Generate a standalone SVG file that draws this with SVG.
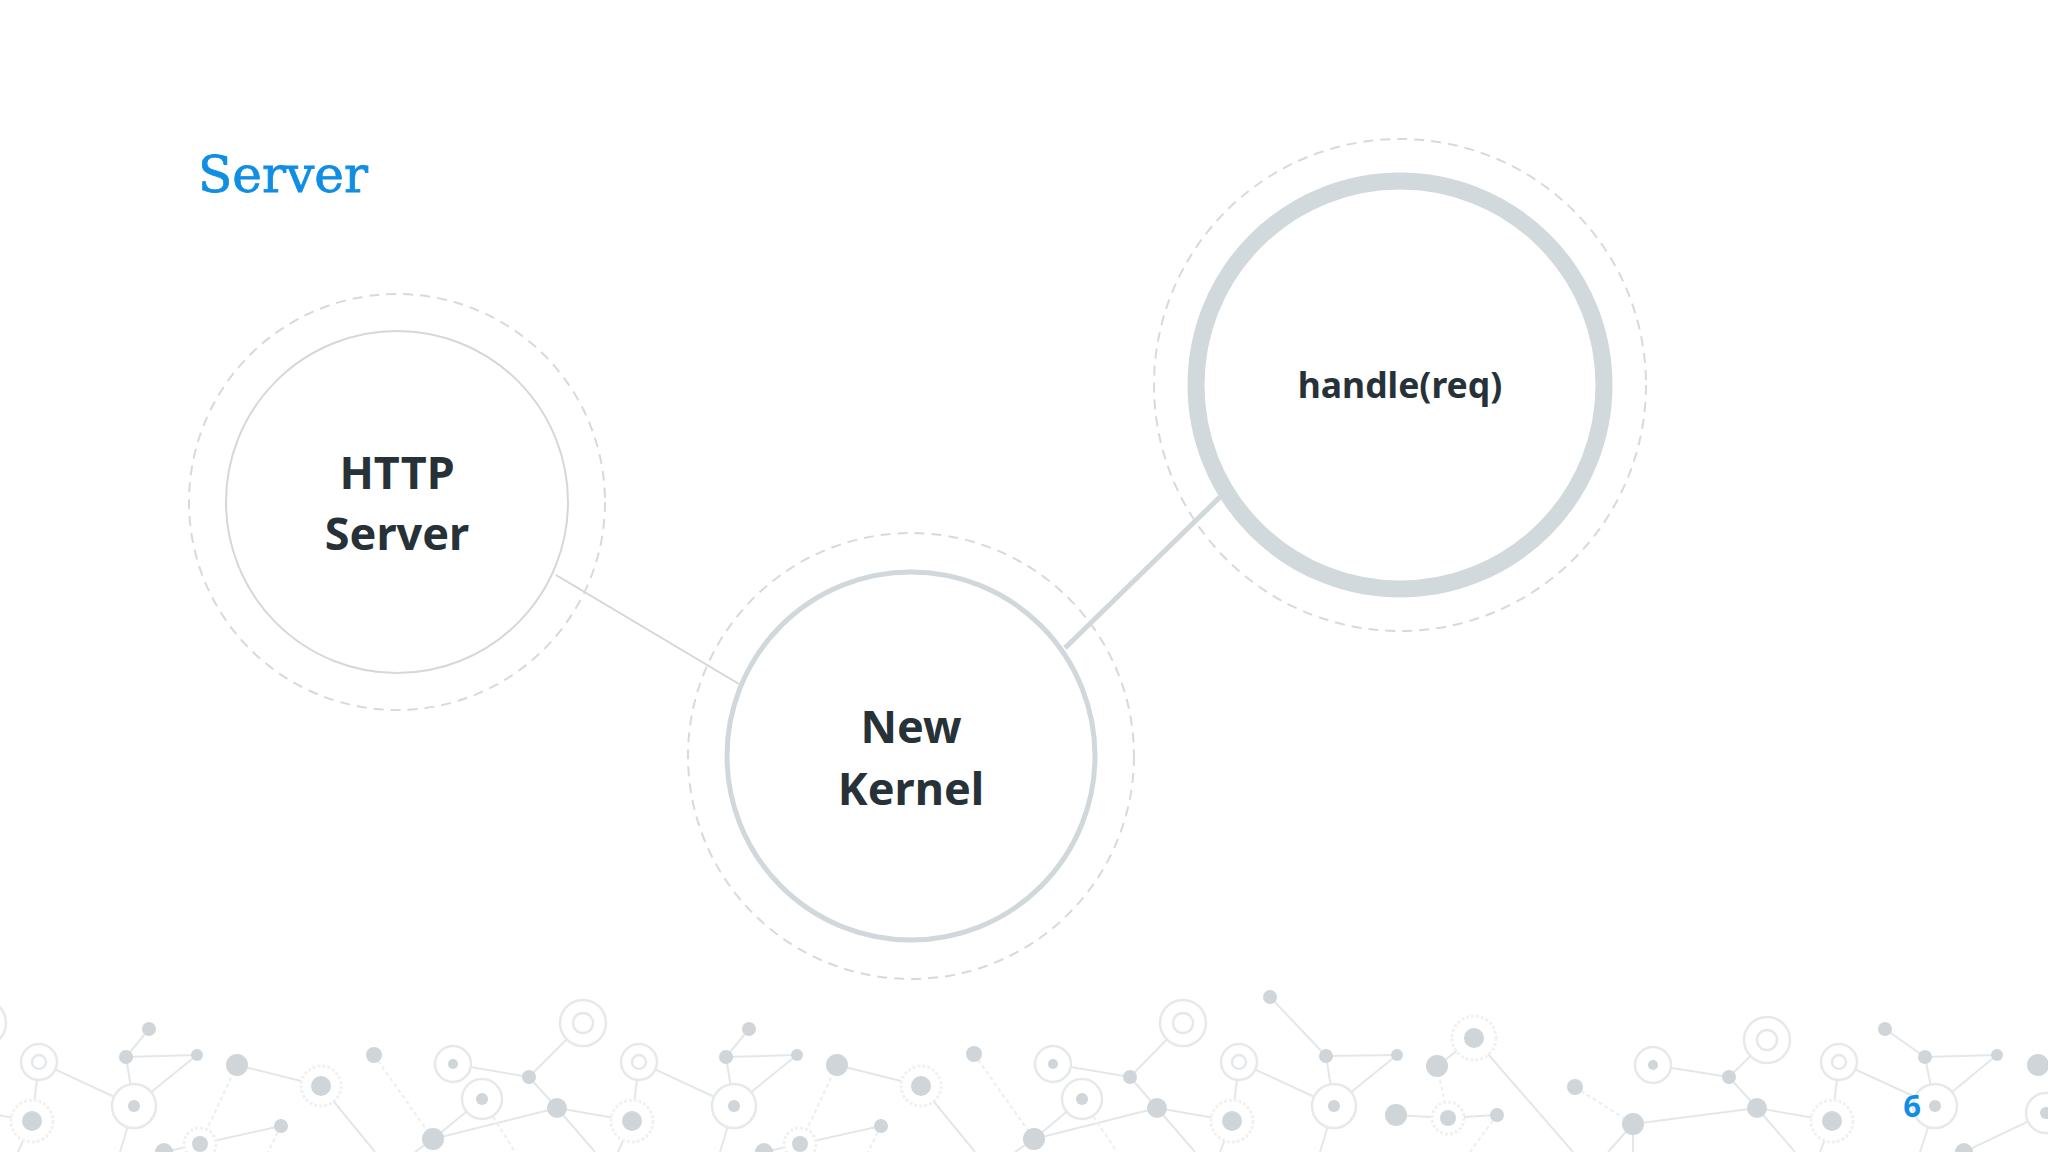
<svg xmlns="http://www.w3.org/2000/svg" width="2048" height="1152" viewBox="0 0 2048 1152">
<style>
.lbl{font-family:"Noto Sans","Open Sans","Liberation Sans",sans-serif;font-weight:700;fill:#263238;text-anchor:middle}
.dash{fill:none;stroke:#d9d9d9;stroke-width:2;stroke-dasharray:10 7}
.pl{stroke:#e4e7e9;stroke-width:2;fill:none}
.pf{stroke:#eceef0;stroke-width:2;fill:none;stroke-dasharray:4 3}
.pd{fill:#cfd5d8}
.pr{fill:#fff;stroke:#e6e9eb;stroke-width:2.5}
.ph{fill:#fff;stroke:#f0f1f2;stroke-width:3;stroke-dasharray:3 2}
</style>
<rect width="2048" height="1152" fill="#ffffff"/>
<text x="198" y="192" font-family="'DejaVu Serif','Liberation Serif',serif" font-size="50" fill="#0f8ee3" stroke="#0f8ee3" stroke-width="0.8" textLength="170" lengthAdjust="spacingAndGlyphs">Server</text>

<g id="pattern">
<g id="pattern-lines">
<!-- tile 0 -->
<line class="pl" x1="39" y1="1062" x2="134" y2="1106"/>
<line class="pl" x1="39" y1="1062" x2="32" y2="1121"/>
<line class="pl" x1="149" y1="1029" x2="126" y2="1057"/>
<line class="pl" x1="126" y1="1057" x2="197" y2="1055"/>
<line class="pl" x1="126" y1="1057" x2="134" y2="1106"/>
<line class="pl" x1="197" y1="1055" x2="134" y2="1106"/>
<line class="pl" x1="134" y1="1106" x2="120" y2="1152"/>
<line class="pl" x1="32" y1="1121" x2="18" y2="1152"/>
<line class="pl" x1="-43" y1="1108" x2="32" y2="1121"/>
<line class="pl" x1="237" y1="1065" x2="321" y2="1086"/>
<line class="pf" x1="237" y1="1065" x2="200" y2="1144"/>
<line class="pl" x1="200" y1="1144" x2="281" y2="1126"/>
<line class="pf" x1="281" y1="1126" x2="268" y2="1152"/>
<line class="pl" x1="200" y1="1144" x2="164" y2="1152"/>
<line class="pl" x1="321" y1="1086" x2="375" y2="1152"/>
<line class="pf" x1="374" y1="1055" x2="433" y2="1139"/>
<line class="pl" x1="433" y1="1139" x2="482" y2="1099"/>
<line class="pl" x1="433" y1="1139" x2="557" y2="1108"/>
<line class="pl" x1="433" y1="1139" x2="415" y2="1152"/>
<line class="pl" x1="453" y1="1064" x2="529" y2="1077"/>
<line class="pl" x1="529" y1="1077" x2="583" y2="1023"/>
<line class="pl" x1="529" y1="1077" x2="557" y2="1108"/>
<line class="pl" x1="557" y1="1108" x2="595" y2="1152"/>
<line class="pl" x1="557" y1="1108" x2="632" y2="1121"/>
<line class="pf" x1="482" y1="1099" x2="515" y2="1152"/>
<!-- tile 1 -->
<line class="pl" x1="639" y1="1062" x2="734" y2="1106"/>
<line class="pl" x1="639" y1="1062" x2="632" y2="1121"/>
<line class="pl" x1="749" y1="1029" x2="726" y2="1057"/>
<line class="pl" x1="726" y1="1057" x2="797" y2="1055"/>
<line class="pl" x1="726" y1="1057" x2="734" y2="1106"/>
<line class="pl" x1="797" y1="1055" x2="734" y2="1106"/>
<line class="pl" x1="734" y1="1106" x2="720" y2="1152"/>
<line class="pl" x1="632" y1="1121" x2="618" y2="1152"/>
<line class="pl" x1="837" y1="1065" x2="921" y2="1086"/>
<line class="pf" x1="837" y1="1065" x2="800" y2="1144"/>
<line class="pl" x1="800" y1="1144" x2="881" y2="1126"/>
<line class="pf" x1="881" y1="1126" x2="868" y2="1152"/>
<line class="pl" x1="800" y1="1144" x2="764" y2="1152"/>
<line class="pl" x1="921" y1="1086" x2="975" y2="1152"/>
<line class="pf" x1="974" y1="1054" x2="1034" y2="1139"/>
<line class="pl" x1="1034" y1="1139" x2="1082" y2="1099"/>
<line class="pl" x1="1034" y1="1139" x2="1157" y2="1108"/>
<line class="pl" x1="1034" y1="1139" x2="1015" y2="1152"/>
<line class="pl" x1="1053" y1="1064" x2="1130" y2="1077"/>
<line class="pl" x1="1130" y1="1077" x2="1183" y2="1023"/>
<line class="pl" x1="1130" y1="1077" x2="1157" y2="1108"/>
<line class="pl" x1="1157" y1="1108" x2="1195" y2="1152"/>
<line class="pl" x1="1157" y1="1108" x2="1232" y2="1121"/>
<line class="pf" x1="1082" y1="1099" x2="1117" y2="1152"/>
<!-- tile 2 -->
<line class="pl" x1="1239" y1="1062" x2="1334" y2="1106"/>
<line class="pl" x1="1239" y1="1062" x2="1232" y2="1121"/>
<line class="pl" x1="1270" y1="997" x2="1326" y2="1056"/>
<line class="pl" x1="1326" y1="1056" x2="1397" y2="1055"/>
<line class="pl" x1="1326" y1="1056" x2="1334" y2="1106"/>
<line class="pl" x1="1397" y1="1055" x2="1334" y2="1106"/>
<line class="pl" x1="1334" y1="1106" x2="1320" y2="1152"/>
<line class="pl" x1="1232" y1="1121" x2="1220" y2="1152"/>
<line class="pl" x1="1437" y1="1066" x2="1474" y2="1038"/>
<line class="pl" x1="1474" y1="1038" x2="1573" y2="1152"/>
<line class="pf" x1="1437" y1="1066" x2="1448" y2="1118"/>
<line class="pl" x1="1396" y1="1115" x2="1448" y2="1118"/>
<line class="pl" x1="1448" y1="1118" x2="1497" y2="1115"/>
<line class="pf" x1="1497" y1="1115" x2="1470" y2="1152"/>
<line class="pf" x1="1575" y1="1087" x2="1633" y2="1124"/>
<line class="pl" x1="1633" y1="1124" x2="1757" y2="1108"/>
<line class="pl" x1="1633" y1="1124" x2="1633" y2="1152"/>
<line class="pl" x1="1633" y1="1124" x2="1608" y2="1152"/>
<line class="pl" x1="1653" y1="1065" x2="1729" y2="1077"/>
<line class="pl" x1="1729" y1="1077" x2="1767" y2="1040"/>
<line class="pl" x1="1729" y1="1077" x2="1757" y2="1108"/>
<line class="pl" x1="1757" y1="1108" x2="1832" y2="1121"/>
<line class="pl" x1="1757" y1="1108" x2="1795" y2="1152"/>
<!-- tile 3 -->
<line class="pl" x1="1839" y1="1062" x2="1832" y2="1121"/>
<line class="pl" x1="1839" y1="1062" x2="1935" y2="1106"/>
<line class="pl" x1="1885" y1="1029" x2="1925" y2="1057"/>
<line class="pl" x1="1925" y1="1057" x2="1997" y2="1055"/>
<line class="pl" x1="1925" y1="1057" x2="1935" y2="1106"/>
<line class="pl" x1="1997" y1="1055" x2="1935" y2="1106"/>
<line class="pl" x1="1935" y1="1106" x2="1920" y2="1152"/>
<line class="pl" x1="1832" y1="1121" x2="1820" y2="1152"/>
<line class="pl" x1="2046" y1="1113" x2="1964" y2="1152"/>
</g>
<g id="pattern-nodes">
<circle class="pr" cx="-17" cy="1023" r="23"/><circle class="pr" cx="-17" cy="1023" r="10"/>
<circle class="pr" cx="583" cy="1023" r="23"/><circle class="pr" cx="583" cy="1023" r="10"/>
<circle class="pr" cx="1183" cy="1023" r="23"/><circle class="pr" cx="1183" cy="1023" r="10"/>
<circle class="pr" cx="1767" cy="1040" r="23"/><circle class="pr" cx="1767" cy="1040" r="10"/>
<circle class="pr" cx="39" cy="1062" r="18"/><circle class="pr" cx="39" cy="1062" r="7"/>
<circle class="pr" cx="639" cy="1062" r="18"/><circle class="pr" cx="639" cy="1062" r="7"/>
<circle class="pr" cx="1239" cy="1062" r="18"/><circle class="pr" cx="1239" cy="1062" r="7"/>
<circle class="pr" cx="1839" cy="1062" r="18"/><circle class="pr" cx="1839" cy="1062" r="7"/>
<circle class="pr" cx="134" cy="1106" r="22"/><circle class="pd" cx="134" cy="1106" r="6"/>
<circle class="pr" cx="734" cy="1106" r="22"/><circle class="pd" cx="734" cy="1106" r="6"/>
<circle class="pr" cx="1334" cy="1106" r="22"/><circle class="pd" cx="1334" cy="1106" r="6"/>
<circle class="pr" cx="1935" cy="1106" r="22"/><circle class="pd" cx="1935" cy="1106" r="6"/>
<circle class="pr" cx="453" cy="1064" r="18"/><circle class="pd" cx="453" cy="1064" r="5"/>
<circle class="pr" cx="1053" cy="1064" r="18"/><circle class="pd" cx="1053" cy="1064" r="5"/>
<circle class="pr" cx="1653" cy="1065" r="18"/><circle class="pd" cx="1653" cy="1065" r="5"/>
<circle class="pr" cx="482" cy="1099" r="20"/><circle class="pd" cx="482" cy="1099" r="6"/>
<circle class="pr" cx="1082" cy="1099" r="20"/><circle class="pd" cx="1082" cy="1099" r="6"/>
<circle class="pr" cx="2046" cy="1113" r="20"/><circle class="pd" cx="2046" cy="1113" r="6"/>
<circle class="ph" cx="32" cy="1121" r="21"/><circle class="pd" cx="32" cy="1121" r="10"/>
<circle class="ph" cx="632" cy="1121" r="21"/><circle class="pd" cx="632" cy="1121" r="10"/>
<circle class="ph" cx="1232" cy="1121" r="21"/><circle class="pd" cx="1232" cy="1121" r="10"/>
<circle class="ph" cx="1832" cy="1121" r="21"/><circle class="pd" cx="1832" cy="1121" r="10"/>
<circle class="ph" cx="321" cy="1086" r="20"/><circle class="pd" cx="321" cy="1086" r="10"/>
<circle class="ph" cx="921" cy="1086" r="20"/><circle class="pd" cx="921" cy="1086" r="10"/>
<circle class="ph" cx="200" cy="1144" r="16"/><circle class="pd" cx="200" cy="1144" r="8"/>
<circle class="ph" cx="800" cy="1144" r="16"/><circle class="pd" cx="800" cy="1144" r="8"/>
<circle class="ph" cx="1474" cy="1038" r="22"/><circle class="pd" cx="1474" cy="1038" r="10"/>
<circle class="ph" cx="1448" cy="1118" r="16"/><circle class="pd" cx="1448" cy="1118" r="8"/>
<circle class="pd" cx="149" cy="1029" r="7"/><circle class="pd" cx="126" cy="1057" r="7"/><circle class="pd" cx="197" cy="1055" r="6"/>
<circle class="pd" cx="749" cy="1029" r="7"/><circle class="pd" cx="726" cy="1057" r="7"/><circle class="pd" cx="797" cy="1055" r="6"/>
<circle class="pd" cx="1270" cy="997" r="7"/><circle class="pd" cx="1326" cy="1056" r="7"/><circle class="pd" cx="1397" cy="1055" r="6"/>
<circle class="pd" cx="1885" cy="1029" r="7"/><circle class="pd" cx="1925" cy="1057" r="7"/><circle class="pd" cx="1997" cy="1055" r="6"/>
<circle class="pd" cx="237" cy="1065" r="11"/><circle class="pd" cx="837" cy="1065" r="11"/><circle class="pd" cx="1437" cy="1066" r="11"/><circle class="pd" cx="2038" cy="1065" r="11"/>
<circle class="pd" cx="281" cy="1126" r="7"/><circle class="pd" cx="881" cy="1126" r="7"/>
<circle class="pd" cx="164" cy="1152" r="9"/><circle class="pd" cx="764" cy="1152" r="9"/><circle class="pd" cx="1964" cy="1152" r="9"/>
<circle class="pd" cx="374" cy="1055" r="8"/><circle class="pd" cx="974" cy="1054" r="8"/><circle class="pd" cx="1575" cy="1087" r="8"/>
<circle class="pd" cx="433" cy="1139" r="11"/><circle class="pd" cx="1034" cy="1139" r="11"/><circle class="pd" cx="1633" cy="1124" r="11"/>
<circle class="pd" cx="529" cy="1077" r="7"/><circle class="pd" cx="1130" cy="1077" r="7"/><circle class="pd" cx="1729" cy="1077" r="7"/>
<circle class="pd" cx="557" cy="1108" r="10"/><circle class="pd" cx="1157" cy="1108" r="10"/><circle class="pd" cx="1757" cy="1108" r="10"/>
<circle class="pd" cx="1396" cy="1115" r="11"/><circle class="pd" cx="1497" cy="1115" r="7"/>
</g>
</g>

<g id="connectors">
<line x1="556" y1="575" x2="739" y2="684" stroke="#d6d6d6" stroke-width="2"/>
<line x1="1065" y1="648" x2="1220" y2="497" stroke="#d1d8db" stroke-width="5"/>
</g>

<g id="node-http-server">
<circle class="dash" cx="397" cy="502" r="208"/>
<circle cx="397" cy="502" r="171" fill="#ffffff" stroke="#d7d7d7" stroke-width="2"/>
<text class="lbl" x="397" y="489" font-size="45">HTTP</text>
<text class="lbl" x="397" y="550" font-size="45">Server</text>
</g>

<g id="node-new-kernel">
<circle class="dash" cx="911" cy="756" r="223"/>
<circle cx="911" cy="756" r="184" fill="#ffffff" stroke="#d1d8db" stroke-width="5"/>
<text class="lbl" x="911" y="743" font-size="45">New</text>
<text class="lbl" x="911" y="805" font-size="45">Kernel</text>
</g>

<g id="node-handle">
<circle class="dash" cx="1400" cy="385" r="246"/>
<circle cx="1400" cy="385" r="204" fill="#ffffff" stroke="#d1d9dc" stroke-width="17"/>
<text class="lbl" x="1400" y="398" font-size="35.5">handle(req)</text>
</g>

<text x="1912" y="1117" font-family="'Noto Sans','Open Sans',sans-serif" font-weight="700" font-size="31" fill="#0f8ee3" text-anchor="middle">6</text>
</svg>
